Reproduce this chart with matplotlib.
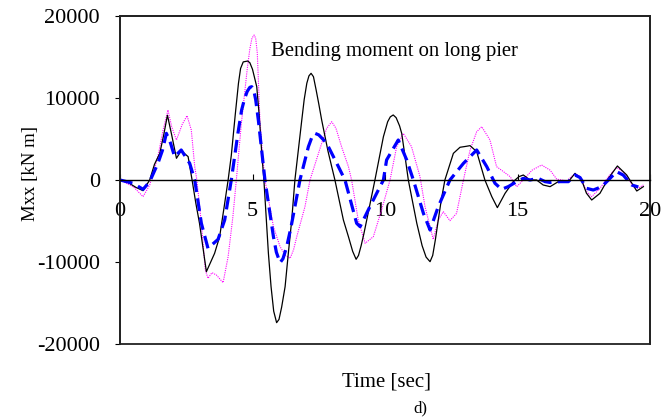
import matplotlib
matplotlib.use("Agg")
import matplotlib.pyplot as plt
from matplotlib.patches import Rectangle

plt.rcParams['font.family'] = ['Liberation Serif', 'DejaVu Serif']

# time histories of the bending moment (t in sec, M in kN m)
t_black = [0, 0.3, 0.6, 0.87, 1.12, 1.3, 1.5, 1.65, 1.79, 1.95, 2.13, 2.31, 2.57, 2.72,
           2.86, 3.0, 3.26, 3.57, 3.76, 3.92, 4.08, 4.2, 4.35, 4.47, 4.55, 4.65, 4.82,
           4.9, 5.0, 5.16, 5.25, 5.35, 5.43, 5.6, 5.7, 5.8, 5.91, 6.0, 6.1, 6.23, 6.35,
           6.48, 6.6, 6.86, 6.95, 7.05, 7.13, 7.21, 7.3, 7.4, 7.5, 7.61, 7.85, 8.11,
           8.43, 8.62, 8.78, 8.91, 9.0, 9.1, 9.2, 9.31, 9.62, 9.94, 10.1, 10.2, 10.31,
           10.42, 10.55, 10.63, 10.75, 10.88, 11.2, 11.4, 11.55, 11.7, 11.8, 11.9, 12.01,
           12.12, 12.26, 12.58, 12.83, 13.05, 13.21, 13.46, 13.77, 14.03, 14.24, 14.53,
           14.84, 15.05, 15.22, 15.47, 15.72, 15.97, 16.23, 16.54, 16.92, 17.17, 17.42,
           17.6, 17.8, 18.11, 18.43, 18.77, 19.12, 19.5, 19.75]
m_black = [0, -300, -900, -1300, 0, 1900, 3250, 5500, 7900, 5500, 2650, 3570, 2850, 0,
           -2800, -5280, -11180, -8940, -6910, -3500, 0, 3000, 8000, 11790, 13600, 14400,
           14510, 14300, 13500, 11380, 8000, 3250, 0, -8940, -13000, -16000, -17400,
           -17000, -15500, -13010, -9000, -4880, 0, 7320, 9800, 11800, 12700, 13010,
           12600, 11000, 9300, 7320, 3500, 0, -4880, -6910, -8700, -9670, -9200, -8000,
           -6600, -4880, 0, 5280, 7100, 7700, 7930, 7600, 6600, 5690, 3000, 0, -5280,
           -8000, -9400, -9960, -9200, -7300, -4880, -2500, 0, 3250, 3990, 4100, 4190,
           3460, 0, -2030, -3370, -1630, -200, 400, 610, 0, 0, -610, -810, -200, -200, 810,
           0, -1600, -2440, -1630, 200, 1710, 610, -1340, -810]

t_blue = [0, 0.5, 0.87, 1.12, 1.43, 1.6, 1.75, 1.91, 2.06, 2.31, 2.63, 2.82, 3.07, 3.32,
          3.7, 3.95, 4.2, 4.45, 4.59, 4.7, 4.8, 4.9, 4.97, 5.05, 5.12, 5.22, 5.35, 5.47,
          5.79, 5.9, 6.04, 6.15, 6.29, 6.45, 6.6, 6.79, 7.11, 7.25, 7.36, 7.5, 7.65, 7.8,
          8.18, 8.49, 8.93, 9.06, 9.43, 9.94, 10.06, 10.5, 10.82, 11.07, 11.45, 11.7,
          12.01, 12.45, 12.96, 13.46, 13.84, 14.15, 14.4, 14.65, 14.97, 15.22, 15.47,
          15.78, 16.04, 16.23, 16.6, 16.92, 17.17, 17.36, 17.61, 17.86, 18.18, 18.43,
          18.74, 18.99, 19.31, 19.56]
m_blue = [0, -400, -1140, -200, 2030, 3600, 5690, 4470, 2850, 3660, 2030, 0, -5280, -8330,
          -7240, -4880, 0, 5690, 8540, 9900, 10800, 11300, 11380, 10900, 9800, 7320, 3500,
          0, -6910, -8800, -10080, -9600, -8130, -5800, -3250, 0, 4070, 5300, 5690, 5500,
          5000, 4470, 2030, 0, -5280, -5690, -3250, 0, 2440, 4880, 2440, 0, -4070, -6100,
          -3250, 0, 2030, 3660, 1630, -400, -1140, -810, -200, 200, 0, 200, -200, -300,
          -200, -200, 610, 300, -1020, -1220, -810, 0, 1020, 600, -610, -850]

t_mag = [0, 0.5, 0.87, 1.12, 1.43, 1.62, 1.81, 1.95, 2.13, 2.35, 2.53, 2.69, 2.82, 2.9,
         3.07, 3.22, 3.32, 3.47, 3.64, 3.89, 4.08, 4.26, 4.39, 4.58, 4.7, 4.8, 4.9, 4.98,
         5.06, 5.12, 5.18, 5.23, 5.28, 5.38, 5.47, 5.79, 6.04, 6.25, 6.42, 6.55, 6.67,
         6.98, 7.17, 7.61, 7.8, 7.99, 8.15, 8.36, 8.62, 8.74, 8.99, 9.25, 9.56, 9.87,
         10.19, 10.44, 10.69, 11.0, 11.32, 11.51, 11.7, 11.82, 12.01, 12.2, 12.45, 12.7,
         12.96, 13.21, 13.46, 13.65, 13.96, 14.21, 14.47, 14.72, 14.97, 15.22, 15.55,
         15.91, 16.23, 16.48, 16.86, 17.17, 17.36, 17.61, 17.8, 18.11, 18.43, 18.74,
         19.06, 19.37, 19.56, 19.75]
m_mag = [0, -810, -2030, -610, 2850, 6000, 8540, 6500, 4880, 6800, 7840, 6100, 1630, 0,
         -5280, -10980, -11990, -11300, -11590, -12520, -9350, -4470, 0, 6910, 10500,
         13500, 16000, 17300, 17680, 17300, 15500, 11500, 7320, 3000, 0, -5690, -8130,
         -9200, -9550, -8500, -6910, -3250, 0, 4470, 6300, 7110, 6300, 4070, 1630, 0,
         -4880, -7720, -6910, -3660, 0, 4070, 5690, 4070, 410, -3250, -5690, -7240, -4880,
         -3860, -4960, -4070, 0, 3660, 5890, 6500, 4880, 1630, 1020, 410, -810, 0, 1200,
         1830, 1200, 100, -100, 800, 400, -1420, -2030, -1020, 400, 1540, 800, -810,
         -1000, -610]

x_ticks = [0, 5, 10, 15, 20]
y_ticks = [-20000, -10000, 0, 10000, 20000]

fig = plt.figure(figsize=(6.72, 4.19), dpi=100)
ax = fig.add_axes([120 / 672, 75 / 419, 530 / 672, 328 / 419])

ax.plot(t_mag, m_mag, color='#ff00ff', lw=0.8, ls=(0, (1, 1)))
ax.plot(t_black, m_black, color='black', lw=0.9)
ax.plot(t_blue, m_blue, color='#0000ff', lw=2.3, ls=(0, (4, 2)))

ax.set_xlim(0, 20)
ax.set_ylim(-20000, 20000)

# x axis runs along the zero line, box drawn separately
ax.spines['bottom'].set_position(('data', 0))
ax.spines['bottom'].set_linewidth(1.0)
for s in ['left', 'top', 'right']:
    ax.spines[s].set_linewidth(1.3)
    ax.spines[s].set_color('#222222')
ax.add_patch(Rectangle((0, 0), 1, 1, transform=ax.transAxes, fill=False,
                       lw=1.3, edgecolor='#222222', clip_on=False))

ax.set_xticks(x_ticks)
ax.set_xticklabels([str(v) for v in x_ticks])
ax.set_yticks(y_ticks)
ax.set_yticklabels([str(v) for v in y_ticks])
ax.tick_params(axis='x', direction='in', length=4, pad=16, labelsize=16)
ax.tick_params(axis='y', direction='out', length=3.5, pad=11, labelsize=16)

ax.text(5.7, 15700, 'Bending moment on long pier', fontsize=14.9, va='center')

fig.text(30 / 672, 1 - 173 / 419, 'Mxx [kN m]', rotation=90, ha='center',
         va='center', fontsize=13.5)
fig.text(386 / 672, 1 - 382 / 419, 'Time [sec]', ha='center', va='center', fontsize=15)
fig.text(420 / 672, 1 - 408 / 419, 'd)', ha='center', va='center', fontsize=12)

fig.savefig('out.png', dpi=100)
